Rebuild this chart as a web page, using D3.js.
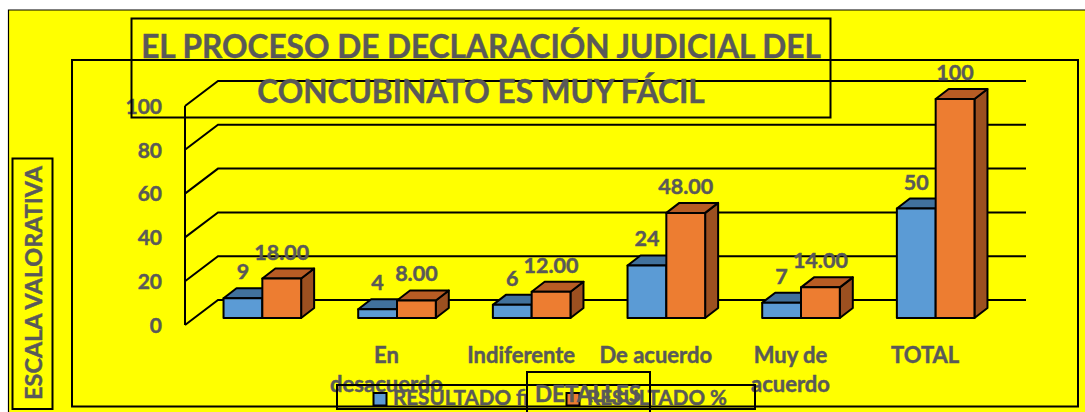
<!DOCTYPE html>
<html><head><meta charset="utf-8">
<script src="https://cdnjs.cloudflare.com/ajax/libs/d3/7.8.5/d3.min.js"></script>
<style>html,body{margin:0;padding:0;background:#fff}svg{display:block}text{font-family:Lato,sans-serif;font-weight:700;fill:#595959;stroke:#595959;stroke-width:.45px}</style>
</head><body><svg id="c" width="1085" height="412"></svg>
<script>
const categories = ["", "En desacuerdo", "Indiferente", "De acuerdo", "Muy de acuerdo", "TOTAL"];
const categoryLines = [[], ["En", "desacuerdo"], ["Indiferente"], ["De acuerdo"], ["Muy de", "acuerdo"], ["TOTAL"]];
const valuesFi = [9, 4, 6, 24, 7, 50];
const valuesPct = [18, 8, 12, 48, 14, 100];
const labelsFi = ["9", "4", "6", "24", "7", "50"];
const labelsPct = ["18.00", "8.00", "12.00", "48.00", "14.00", "100"];
const yTicks = [0, 20, 40, 60, 80, 100];
const titleLines = ["EL PROCESO DE DECLARACIÓN JUDICIAL DEL", "CONCUBINATO ES MUY FÁCIL"];
const seriesNames = ["RESULTADO fi", "RESULTADO %"];

const svg = d3.select("#c");
const YEL = "#ffff00", BLUE = "#5b9bd5", BLUE_TOP = "#41719c", ORG = "#ed7d31", ORG_TOP = "#b85c24", ORG_SIDE = "#9c5020";
const rect = (x, y, w, h, sw = 2) => svg.append("rect").attr("x", x).attr("y", y).attr("width", w).attr("height", h)
  .attr("fill", "none").attr("stroke", "#000").attr("stroke-width", sw);

svg.append("rect").attr("x", 8).attr("y", 10).attr("width", 1077).attr("height", 402).attr("fill", YEL);
svg.append("path").attr("d", "M8.5 412V10H1085").attr("fill", "none").attr("stroke", "#000").attr("stroke-width", 1.2);

// plot frame
rect(72, 60, 1006, 346.5);

// scales
const x = d3.scaleBand().domain(categories).range([185, 993]);
const y = d3.scaleLinear().domain([0, 100]).range([325, 106]);
const yBar = d3.scaleLinear().domain([0, 100]).range([318, 99]);
const wallDx = 33, wallDy = -25, barDx = 13, barDy = -10, barW = 38.8, groupShift = 10;

// 3D walls / gridlines
const grid = svg.append("g").attr("fill", "none").attr("stroke", "#000").attr("stroke-width", 2);
grid.selectAll("path").data(yTicks).join("path")
  .attr("d", d => `M${x.range()[0]} ${y(d)}L${x.range()[0] + wallDx} ${y(d) + wallDy}H${x.range()[1] + wallDx}`);
grid.append("line").attr("x1", 185).attr("x2", 185).attr("y1", y(100)).attr("y2", y(0));

// y axis
const axis = svg.append("g").attr("transform", "translate(170,0)")
  .call(d3.axisLeft(y).tickValues(yTicks).tickSize(0).tickPadding(8));
axis.select(".domain").remove();
axis.selectAll("text").attr("font-size", 21).style("font-family", "Lato,sans-serif").attr("dy", ".35em");

// bars
function bar(g, xl, v, front, top, side) {
  const t = yBar(v), b = yBar(0), xr = xl + barW;
  g.append("path").attr("d", `M${xr} ${t}L${xr + barDx} ${t + barDy}V${b + barDy}L${xr} ${b}Z`).attr("fill", side);
  g.append("path").attr("d", `M${xl} ${t}L${xl + barDx} ${t + barDy}H${xr + barDx}L${xr} ${t}Z`).attr("fill", top);
  g.append("rect").attr("x", xl).attr("y", t).attr("width", barW).attr("height", b - t).attr("fill", front);
}
const groups = svg.append("g").attr("stroke", "#000").attr("stroke-width", 2).attr("stroke-linejoin", "round");
categories.forEach((c, i) => {
  const cx = x(c) + x.bandwidth() / 2 + groupShift;
  const g = groups.append("g");
  bar(g, cx - barW, valuesFi[i], BLUE, BLUE_TOP, BLUE_TOP);
  bar(g, cx, valuesPct[i], ORG, ORG_TOP, ORG_SIDE);
});

// data labels
categories.forEach((c, i) => {
  const cx = x(c) + x.bandwidth() / 2 + groupShift;
  svg.append("text").attr("x", cx - barW / 2).attr("y", yBar(valuesFi[i]) - 19).attr("text-anchor", "middle").attr("font-size", 21.5).text(labelsFi[i]);
  svg.append("text").attr("x", cx + barW / 2).attr("y", yBar(valuesPct[i]) - 19).attr("text-anchor", "middle").attr("font-size", 21.5).text(labelsPct[i]);
});

// category labels
categories.forEach((c, i) => {
  categoryLines[i].forEach((ln, k) => {
    svg.append("text").attr("x", x(c) + x.bandwidth() / 2 - 0.5).attr("y", 363 + k * 29).attr("text-anchor", "middle").attr("font-size", 22).text(ln);
  });
});

// title
rect(131.5, 18.5, 699, 99);
titleLines.forEach((t, i) => {
  svg.append("text").attr("x", 481).attr("y", i ? 103 : 58).attr("text-anchor", "middle").attr("font-size", 31.6).text(t);
});

// y title
rect(12.5, 158.5, 40, 250.5);
svg.append("text").attr("transform", "translate(42,283) rotate(-90)").attr("text-anchor", "middle").attr("font-size", 23.4).text("ESCALA VALORATIVA");

// legend
rect(337, 385, 418, 24);
[[373, 393, 0], [566, 587, 1]].forEach(([sx, tx, i]) => {
  svg.append("rect").attr("x", sx + 0.5).attr("y", 393).attr("width", 13).attr("height", 12.5)
    .attr("fill", i ? ORG : BLUE).attr("stroke", "#000").attr("stroke-width", 2);
  svg.append("text").attr("x", tx).attr("y", 405).attr("font-size", 20.6).text(seriesNames[i]);
});

// x title
rect(527, 372, 123, 45);
svg.append("text").attr("x", 588).attr("y", 402).attr("text-anchor", "middle").attr("font-size", 22.5).text("DETALLES");
</script></body></html>
